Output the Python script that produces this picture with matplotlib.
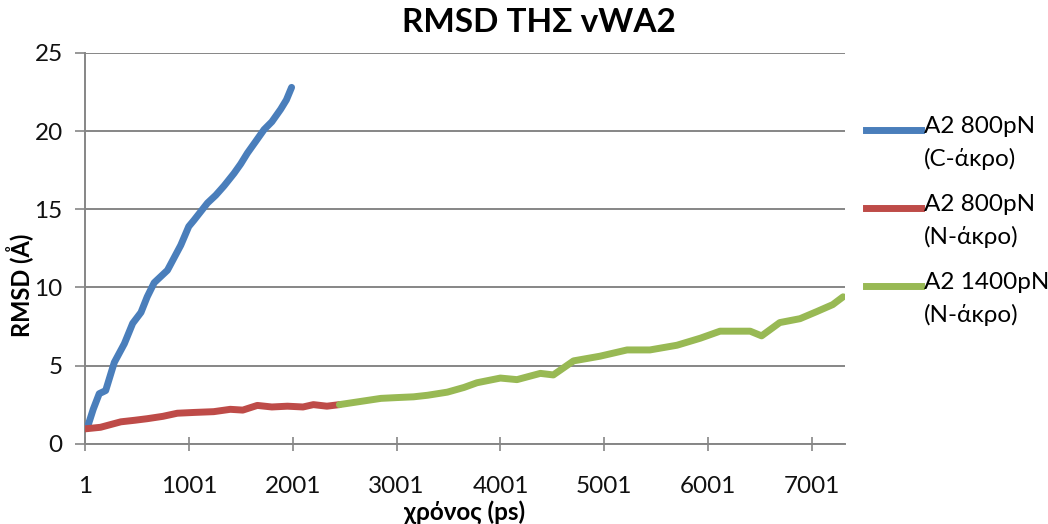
import matplotlib
matplotlib.use("Agg")
import matplotlib.pyplot as plt
from matplotlib.lines import Line2D

# ---- data ----
blue_t = [1, 27, 80, 138, 200, 283, 380, 460, 540, 600, 667, 795, 923, 1000, 1050,
          1180, 1260, 1340, 1436, 1500, 1565, 1640, 1725, 1800, 1885, 1940, 1990]
blue_y = [1.0, 1.1, 2.2, 3.2, 3.4, 5.2, 6.4, 7.7, 8.4, 9.4, 10.3, 11.1, 12.7, 13.9, 14.3,
          15.4, 15.9, 16.5, 17.3, 17.9, 18.6, 19.3, 20.1, 20.6, 21.4, 22.0, 22.8]

red_t = [1, 150, 346, 480, 600, 750, 890, 1050, 1240, 1400, 1520, 1660, 1800, 1950, 2100, 2200, 2330, 2450]
red_y = [0.95, 1.05, 1.4, 1.5, 1.6, 1.75, 1.95, 2.0, 2.05, 2.2, 2.15, 2.45, 2.35, 2.4, 2.35, 2.5, 2.4, 2.5]

green_t = [2450, 2650, 2850, 3000, 3165, 3300, 3490, 3650, 3775, 4000, 4160, 4385, 4510,
           4705, 4960, 5220, 5440, 5700, 5925, 6115, 6405, 6515, 6690, 6885, 7045, 7200, 7300]
green_y = [2.5, 2.7, 2.9, 2.95, 3.0, 3.1, 3.3, 3.6, 3.9, 4.2, 4.1, 4.5, 4.4,
           5.3, 5.6, 6.0, 6.0, 6.3, 6.75, 7.2, 7.2, 6.9, 7.75, 8.0, 8.45, 8.9, 9.4]

labels = ["A2 800pN\n(C-άκρο)", "A2 800pN\n(N-άκρο)", "A2 1400pN\n(N-άκρο)"]
colors = ["#4A7EBB", "#BE4B48", "#98B954"]
x_ticks = [1, 1001, 2001, 3001, 4001, 5001, 6001, 7001]
y_ticks = [0, 5, 10, 15, 20, 25]

plt.rcParams['font.family'] = ['Lato', 'DejaVu Sans']

fig = plt.figure(figsize=(10.48, 5.24), dpi=100)
ax = fig.add_axes([85/1048, 1-443.7/524, (845-85)/1048, (443.7-53)/524])

series = [(blue_t, blue_y), (red_t, red_y), (green_t, green_y)]
for (t, y), c in zip(series, colors):
    ax.plot(t, y, color=c, lw=5, solid_capstyle='round', solid_joinstyle='round', zorder=3)

ax.set_xlim(1, 7318)
ax.set_ylim(0, 25)
ax.set_xticks(x_ticks)
ax.set_yticks(y_ticks)
ax.grid(axis='y', color='#868686', lw=1.4)
ax.set_axisbelow(True)
for s in ['top', 'right']:
    ax.spines[s].set_visible(False)
for s in ['left', 'bottom']:
    ax.spines[s].set_color('#868686')
    ax.spines[s].set_linewidth(1.4)
ax.tick_params(axis='x', direction='inout', length=10, width=1.2, color='#868686',
               labelsize=17.5, pad=18, labelcolor='#111111')
ax.tick_params(axis='y', direction='out', length=7, width=1.2, color='#868686',
               labelsize=17.5, pad=9, labelcolor='#111111')

fig.text(539/1048, 1-22/524, "RMSD ΤΗΣ vWA2", ha='center', va='center',
         fontsize=24, fontweight='bold')
fig.text(20/1048, 1-285/524, "RMSD (Å)", ha='center', va='center', rotation=90,
         fontsize=17, fontweight='bold')
fig.text(465/1048, 1-512/524, "χρόνος (ps)", ha='center', va='center',
         fontsize=17.5, fontweight='bold')

# legend (manual, handle aligned with first text line)
leg_y = [130, 208, 286]
for lab, c, yy in zip(labels, colors, leg_y):
    yf = 1 - yy/524
    fig.add_artist(Line2D([866/1048, 921/1048], [yf, yf], color=c, lw=5,
                          transform=fig.transFigure))
    fig.text(924/1048, yf + 14/524, lab, ha='left', va='top', fontsize=17.5,
             linespacing=1.6, transform=fig.transFigure)

fig.savefig("out.png", dpi=100, facecolor='white')
